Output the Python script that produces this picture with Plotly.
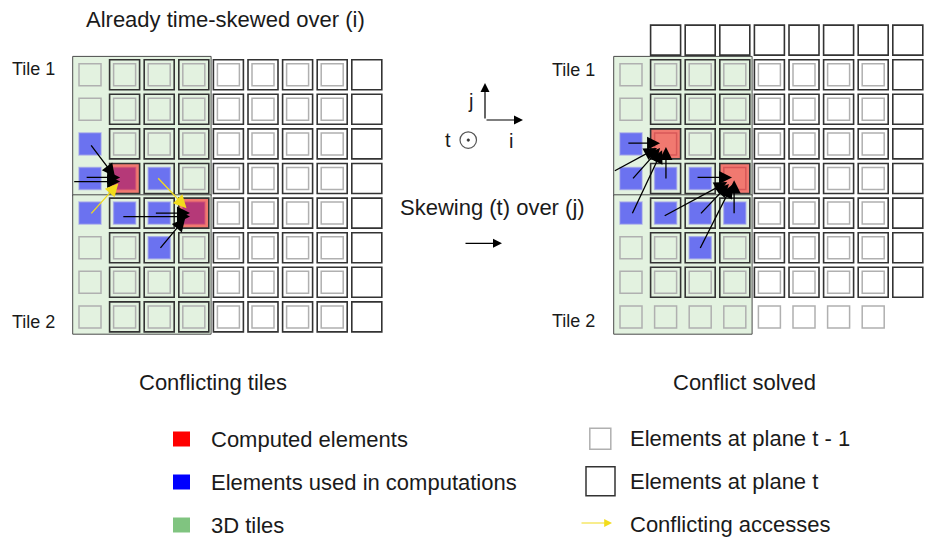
import plotly.graph_objects as go

# ---------------- data ----------------
PREV_ROWS = list(range(0, 8))          # plane t-1 rows (both grids)
PREV_COLS = list(range(0, 8))          # plane t-1 columns
CUR_COLS = list(range(1, 9))           # plane t columns (skewed over i)
CUR_ROWS_LEFT = list(range(0, 8))      # plane t rows, left grid
CUR_ROWS_RIGHT = list(range(-1, 7))    # plane t rows, right grid (skewed over j)

USED_CELLS = [(2, 0), (3, 0), (3, 1), (3, 2), (4, 0), (4, 1), (4, 2), (4, 3), (5, 2)]
COMPUTED_LEFT = [(3, 1), (4, 3)]
COMPUTED_RIGHT = [(2, 1), (3, 3)]
TILES = [(0, 3, 0, 3), (4, 7, 0, 3)]   # row0,row1,col0,col1
TILE_NAMES = ["Tile 1", "Tile 2"]

# arrows: (source (row, col), target (row, col), kind)
ARROWS_LEFT = [
    ((2.0, 0.0), (2.95, 0.72), "dep"),
    ((3.09, -0.5), (3.09, 0.87), "dep"),
    ((2.97, -0.14), (2.97, 0.87), "dep"),
    ((4.05, 0.0), (3.14, 0.82), "conflict"),
    ((2.95, 1.93), (3.86, 2.79), "conflict"),
    ((4.1, 0.92), (4.1, 2.89), "dep"),
    ((4.0, 1.86), (4.0, 2.89), "dep"),
    ((5.05, 2.0), (4.15, 2.75), "dep"),
]
ARROWS_RIGHT = [
    ((1.98, -0.12), (1.98, 0.84), "dep"),
    ((2.8, -0.51), (2.12, 0.75), "dep"),
    ((3.04, 0.02), (2.12, 0.84), "dep"),
    ((3.04, 1.01), (2.09, 1.01), "dep"),
    ((4.05, 0.02), (2.18, 0.9), "dep"),
    ((2.97, 1.88), (2.97, 2.92), "dep"),
    ((4.1, 0.93), (3.1, 2.78), "dep"),
    ((4.05, 1.98), (3.16, 2.83), "dep"),
    ((4.05, 2.98), (3.05, 2.98), "dep"),
    ((5.05, 1.98), (3.19, 2.92), "dep"),
]

TITLE_LEFT = "Already time-skewed over (i)"
CAPTION_LEFT = "Conflicting tiles"
CAPTION_RIGHT = "Conflict solved"
SKEW_TEXT = "Skewing (t) over (j)"
LEGEND_LEFT = ["Computed elements", "Elements used in computations", "3D tiles"]
LEGEND_RIGHT = ["Elements at plane t - 1", "Elements at plane t", "Conflicting accesses"]

# ---------------- styling / geometry ----------------
W, H = 931, 539
STEP = 34.6
LEFT_X0, RIGHT_X0, Y0 = 90.0, 631.0, 74.7
PREV_HALF, CUR_HALF = 11.0, 15.0
TILE_FILL = "#e3f2e0"
TILE_LINE = "#4a4a4a"
PREV_LINE = "#b0b0b0"
CUR_LINE = "#333333"
USED_FILL = "rgba(0,0,255,0.53)"
COMP_FILL = "rgba(255,0,0,0.5)"
YELLOW = "#f2dc1c"
TXT = "#1a1a1a"
FONT = "Liberation Sans, Arial, sans-serif"

shapes = []
annotations = []


def cx(x0, c):
    return x0 + STEP * c


def cy(r):
    return Y0 + STEP * r


def square(xc, yc, half, line, fill="rgba(0,0,0,0)", width=1.5):
    shapes.append(dict(type="rect", xref="x", yref="y",
                       x0=xc - half, x1=xc + half, y0=yc - half, y1=yc + half,
                       line=dict(color=line, width=width), fillcolor=fill))


def text(x, y, s, size=22, xanchor="left"):
    annotations.append(dict(x=x, y=y, xref="x", yref="y", text=s, showarrow=False,
                            xanchor=xanchor, yanchor="middle",
                            font=dict(family=FONT, size=size, color=TXT)))


def arrow(x0, y0, x1, y1, color, width=1.3, size=2.0):
    annotations.append(dict(x=x1, y=y1, ax=x0, ay=y0, xref="x", yref="y",
                            axref="x", ayref="y", text="", showarrow=True,
                            arrowhead=2, arrowsize=size, arrowwidth=width,
                            arrowcolor=color, standoff=0, startstandoff=0))


def draw_grid(x0, cur_rows, computed, arrows):
    # tiles
    for (r0, r1, c0, c1) in TILES:
        shapes.append(dict(type="rect", xref="x", yref="y",
                           x0=cx(x0, c0) - STEP / 2, x1=cx(x0, c1) + STEP / 2,
                           y0=cy(r0) - STEP / 2 - 1, y1=cy(r1) + STEP / 2,
                           line=dict(color=TILE_LINE, width=1), fillcolor=TILE_FILL))
    # plane t-1
    for r in PREV_ROWS:
        for c in PREV_COLS:
            fill = USED_FILL if (r, c) in USED_CELLS else "rgba(0,0,0,0)"
            line = "rgba(150,150,235,0.6)" if (r, c) in USED_CELLS else PREV_LINE
            square(cx(x0, c), cy(r), PREV_HALF, line, fill, 1.5)
    # plane t
    for r in cur_rows:
        for c in CUR_COLS:
            fill = COMP_FILL if (r, c) in computed else "rgba(0,0,0,0)"
            square(cx(x0, c), cy(r), CUR_HALF, CUR_LINE, fill, 1.6)
    # accesses
    for (src, dst, kind) in arrows:
        color = YELLOW if kind == "conflict" else "black"
        arrow(cx(x0, src[1]), cy(src[0]), cx(x0, dst[1]), cy(dst[0]), color)


draw_grid(LEFT_X0, CUR_ROWS_LEFT, COMPUTED_LEFT, ARROWS_LEFT)
draw_grid(RIGHT_X0, CUR_ROWS_RIGHT, COMPUTED_RIGHT, ARROWS_RIGHT)

# titles / labels
text(84, 19.5, TITLE_LEFT)
text(10, 68.5, TILE_NAMES[0], 18)
text(10, 322, TILE_NAMES[1], 18)
text(550, 69.5, TILE_NAMES[0], 18)
text(550, 320.5, TILE_NAMES[1], 18)
text(213, 382, CAPTION_LEFT, 22, "center")
text(744, 382, CAPTION_RIGHT, 22, "center")
text(398, 207, SKEW_TEXT)

# axes glyph
arrow(485, 120, 485, 83, "black", 1.2, 1.5)
arrow(485, 120, 523, 120, "black", 1.2, 1.5)
text(470, 101, "j", 20, "center")
text(448, 139.5, "t", 20, "center")
text(511, 141, "i", 20, "center")
shapes.append(dict(type="circle", xref="x", yref="y", x0=460, x1=476.5, y0=131.8, y1=148.3,
                   line=dict(color="#555555", width=1.2)))
shapes.append(dict(type="circle", xref="x", yref="y", x0=467, x1=469.6, y0=138.8, y1=141.4,
                   line=dict(color="#333333", width=0.5), fillcolor="#333333"))
# skew arrow
arrow(464, 243.3, 502, 243.3, "black", 1.2, 1.5)

# legend (left column)
legend_y = [439, 482, 525]
legend_fill = ["#ff0000", "#0000ff", "#80c480"]
for yy, f, lab in zip(legend_y, legend_fill, LEGEND_LEFT):
    shapes.append(dict(type="rect", xref="x", yref="y", x0=173, x1=190, y0=yy - 7.5, y1=yy + 7.5,
                       line=dict(width=0), fillcolor=f))
    text(209, yy + 0.3, lab)

# legend (right column)
square(600.3, 438.8, 10.5, PREV_LINE, "rgba(0,0,0,0)", 1.5)
square(600.5, 481.3, 14.5, CUR_LINE, "rgba(0,0,0,0)", 1.5)
arrow(580, 523, 612, 523, YELLOW, 1.2, 1.3)
for yy, lab in zip([438.5, 481, 524], LEGEND_RIGHT):
    text(628, yy, lab)

fig = go.Figure()
fig.add_trace(go.Scatter(x=[], y=[], showlegend=False))
fig.update_layout(
    width=W, height=H, margin=dict(l=0, r=0, t=0, b=0),
    paper_bgcolor="white", plot_bgcolor="white", showlegend=False,
    xaxis=dict(range=[0, W], visible=False, fixedrange=True),
    yaxis=dict(range=[H, 0], visible=False, fixedrange=True),
    shapes=shapes, annotations=annotations,
)
fig.write_html("out.html", config={"displayModeBar": False},
               post_script="document.body.style.margin='0px';document.body.style.overflow='hidden';")
